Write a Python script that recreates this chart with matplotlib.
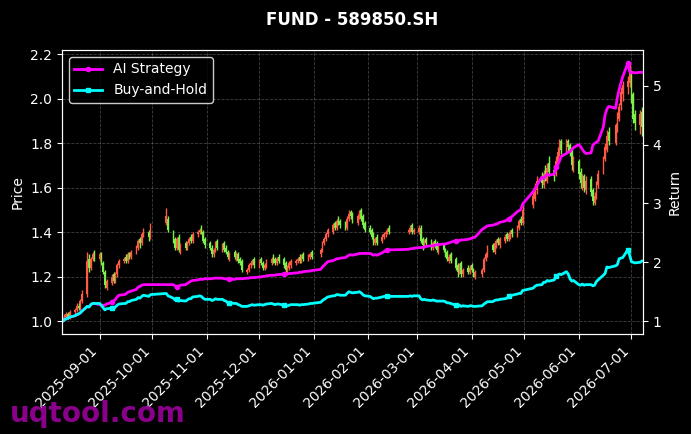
import matplotlib
matplotlib.use("Agg")
import matplotlib.pyplot as plt
import matplotlib.dates as mdates
import pandas as pd

# non-trading weekdays (CN market holidays)
holidays = ["2025-10-01", "2025-10-02", "2025-10-03", "2025-10-06", "2025-10-07", "2025-10-08",
            "2026-01-01", "2026-01-02",
            "2026-02-16", "2026-02-17", "2026-02-18", "2026-02-19", "2026-02-20", "2026-02-23",
            "2026-04-06", "2026-05-01", "2026-05-04", "2026-05-05", "2026-06-19"]

# daily OHLC, one row per week
opens = [1.00, 1.01, 1.02, 1.03, 1.02,
         1.04, 1.05, 1.07, 1.06, 1.09,
         1.12, 1.28, 1.24, 1.28, 1.31,
         1.28, 1.30, 1.26, 1.22, 1.15,
         1.17, 1.21, 1.18, 1.21, 1.25,
         1.27, 1.29, 1.27, 1.30, 1.29,
         1.31, 1.33, 1.37, 1.35, 1.39,
         1.40, 1.38,
         1.44, 1.46,
         1.40, 1.37, 1.33, 1.38, 1.32,
         1.35, 1.33, 1.35, 1.38, 1.36,
         1.39, 1.40, 1.42, 1.40, 1.37,
         1.35, 1.33, 1.30, 1.32, 1.36,
         1.32, 1.35, 1.33, 1.31, 1.28,
         1.31, 1.28, 1.30, 1.28, 1.27,
         1.22, 1.23, 1.25, 1.26, 1.28,
         1.25, 1.28, 1.26, 1.24, 1.25,
         1.26, 1.29, 1.28, 1.26, 1.29,
         1.28, 1.26, 1.22, 1.24, 1.25,
         1.26, 1.27, 1.29, 1.27, 1.30,
         1.28, 1.29, 1.31,
         1.30, 1.32, 1.35, 1.37, 1.39,
         1.40, 1.44, 1.42, 1.46, 1.45,
         1.44, 1.42, 1.46, 1.49, 1.48,
         1.44, 1.47, 1.50, 1.47, 1.44,
         1.42, 1.41, 1.39, 1.35, 1.38,
         1.36, 1.38, 1.39, 1.40, 1.42,
         1.40, 1.41, 1.43, 1.40,
         1.40, 1.42, 1.37, 1.34, 1.37,
         1.36, 1.33, 1.36, 1.35, 1.31,
         1.34, 1.32, 1.31, 1.27, 1.30,
         1.28, 1.25, 1.22, 1.26, 1.21,
         1.24, 1.22, 1.25, 1.23, 1.20,
         1.21, 1.23, 1.28, 1.30,
         1.34, 1.31, 1.34, 1.37, 1.34,
         1.36, 1.39, 1.37, 1.38, 1.41,
         1.39, 1.42, 1.46, 1.44,
         1.52, 1.55, 1.59,
         1.65, 1.61, 1.68, 1.63, 1.71,
         1.68, 1.66, 1.71, 1.76, 1.81,
         1.76, 1.81, 1.79, 1.77, 1.69,
         1.72, 1.67, 1.61, 1.65, 1.59,
         1.64, 1.59, 1.53, 1.56, 1.61,
         1.67, 1.73, 1.77, 1.85,
         1.80, 1.87, 1.91, 1.97, 2.02,
         2.05, 2.07, 2.11, 2.02, 1.93,
         1.88, 1.94]

highs = [1.02, 1.03, 1.04, 1.04, 1.05,
         1.06, 1.08, 1.08, 1.10, 1.14,
         1.31, 1.30, 1.29, 1.31, 1.32,
         1.31, 1.31, 1.27, 1.23, 1.19,
         1.21, 1.22, 1.22, 1.26, 1.28,
         1.29, 1.30, 1.31, 1.31, 1.32,
         1.34, 1.37, 1.38, 1.40, 1.42,
         1.41, 1.44,
         1.51, 1.47,
         1.41, 1.38, 1.38, 1.39, 1.35,
         1.36, 1.36, 1.38, 1.39, 1.40,
         1.41, 1.42, 1.43, 1.41, 1.38,
         1.36, 1.34, 1.33, 1.36, 1.37,
         1.35, 1.36, 1.34, 1.32, 1.31,
         1.32, 1.31, 1.31, 1.29, 1.28,
         1.24, 1.26, 1.27, 1.28, 1.29,
         1.28, 1.29, 1.27, 1.26, 1.28,
         1.29, 1.30, 1.29, 1.29, 1.30,
         1.29, 1.27, 1.25, 1.27, 1.28,
         1.28, 1.29, 1.30, 1.30, 1.31,
         1.30, 1.31, 1.32,
         1.33, 1.36, 1.38, 1.40, 1.42,
         1.44, 1.45, 1.46, 1.47, 1.46,
         1.45, 1.47, 1.50, 1.50, 1.49,
         1.48, 1.50, 1.51, 1.48, 1.45,
         1.43, 1.42, 1.40, 1.38, 1.39,
         1.39, 1.40, 1.41, 1.42, 1.43,
         1.42, 1.43, 1.44, 1.42,
         1.43, 1.43, 1.38, 1.37, 1.38,
         1.37, 1.36, 1.37, 1.36, 1.34,
         1.35, 1.33, 1.32, 1.30, 1.31,
         1.29, 1.26, 1.26, 1.27, 1.24,
         1.25, 1.25, 1.26, 1.24, 1.23,
         1.24, 1.29, 1.31, 1.34,
         1.35, 1.36, 1.37, 1.38, 1.38,
         1.39, 1.40, 1.40, 1.41, 1.42,
         1.43, 1.46, 1.47, 1.52,
         1.58, 1.62, 1.65,
         1.67, 1.68, 1.70, 1.71, 1.74,
         1.70, 1.74, 1.78, 1.82, 1.82,
         1.82, 1.82, 1.80, 1.78, 1.74,
         1.73, 1.69, 1.66, 1.66, 1.65,
         1.65, 1.60, 1.58, 1.63, 1.68,
         1.74, 1.80, 1.86, 1.87,
         1.89, 1.94, 1.98, 2.05, 2.08,
         2.10, 2.16, 2.13, 2.03, 1.95,
         1.95, 1.96]

lows = [1.00, 1.00, 1.01, 1.01, 1.01,
        1.03, 1.04, 1.05, 1.05, 1.08,
        1.11, 1.22, 1.23, 1.27, 1.27,
        1.27, 1.25, 1.21, 1.15, 1.14,
        1.16, 1.17, 1.17, 1.20, 1.24,
        1.26, 1.26, 1.26, 1.28, 1.28,
        1.30, 1.32, 1.33, 1.34, 1.38,
        1.36, 1.37,
        1.43, 1.40,
        1.35, 1.32, 1.32, 1.31, 1.30,
        1.32, 1.32, 1.34, 1.35, 1.35,
        1.38, 1.39, 1.39, 1.35, 1.33,
        1.32, 1.29, 1.29, 1.31, 1.32,
        1.31, 1.31, 1.30, 1.28, 1.27,
        1.28, 1.27, 1.26, 1.25, 1.22,
        1.21, 1.22, 1.24, 1.25, 1.24,
        1.24, 1.25, 1.23, 1.23, 1.24,
        1.25, 1.26, 1.25, 1.25, 1.26,
        1.24, 1.22, 1.21, 1.23, 1.24,
        1.25, 1.26, 1.26, 1.26, 1.27,
        1.27, 1.28, 1.28,
        1.29, 1.31, 1.34, 1.36, 1.38,
        1.39, 1.41, 1.41, 1.43, 1.42,
        1.41, 1.41, 1.45, 1.46, 1.44,
        1.43, 1.46, 1.45, 1.42, 1.40,
        1.39, 1.37, 1.34, 1.34, 1.34,
        1.35, 1.37, 1.38, 1.39, 1.39,
        1.39, 1.40, 1.39, 1.39,
        1.39, 1.35, 1.32, 1.33, 1.34,
        1.32, 1.32, 1.33, 1.31, 1.30,
        1.31, 1.29, 1.27, 1.26, 1.26,
        1.23, 1.20, 1.21, 1.20, 1.20,
        1.21, 1.21, 1.22, 1.20, 1.19,
        1.20, 1.22, 1.27, 1.29,
        1.31, 1.30, 1.33, 1.34, 1.33,
        1.35, 1.36, 1.36, 1.37, 1.38,
        1.38, 1.41, 1.43, 1.43,
        1.51, 1.54, 1.57,
        1.60, 1.60, 1.63, 1.62, 1.65,
        1.63, 1.65, 1.70, 1.74, 1.75,
        1.75, 1.76, 1.74, 1.68, 1.67,
        1.64, 1.60, 1.59, 1.58, 1.57,
        1.56, 1.52, 1.52, 1.55, 1.60,
        1.66, 1.72, 1.76, 1.79,
        1.79, 1.85, 1.90, 1.95, 1.99,
        2.02, 2.05, 1.98, 1.89, 1.86,
        1.84, 1.83]

closes = [1.01, 1.02, 1.03, 1.02, 1.04,
          1.05, 1.07, 1.06, 1.09, 1.12,
          1.27, 1.24, 1.28, 1.30, 1.29,
          1.30, 1.26, 1.22, 1.16, 1.18,
          1.20, 1.18, 1.21, 1.25, 1.27,
          1.28, 1.27, 1.30, 1.29, 1.31,
          1.33, 1.36, 1.35, 1.39, 1.41,
          1.38, 1.43,
          1.47, 1.41,
          1.36, 1.33, 1.37, 1.32, 1.34,
          1.33, 1.35, 1.37, 1.36, 1.39,
          1.40, 1.41, 1.40, 1.36, 1.34,
          1.33, 1.30, 1.32, 1.35, 1.33,
          1.34, 1.32, 1.31, 1.29, 1.30,
          1.29, 1.30, 1.27, 1.26, 1.23,
          1.23, 1.25, 1.26, 1.27, 1.25,
          1.27, 1.26, 1.24, 1.25, 1.27,
          1.28, 1.27, 1.26, 1.28, 1.27,
          1.25, 1.23, 1.24, 1.26, 1.27,
          1.27, 1.28, 1.27, 1.29, 1.28,
          1.29, 1.30, 1.29,
          1.32, 1.35, 1.37, 1.39, 1.41,
          1.43, 1.42, 1.45, 1.44, 1.43,
          1.42, 1.46, 1.48, 1.47, 1.45,
          1.47, 1.49, 1.46, 1.43, 1.41,
          1.40, 1.38, 1.36, 1.37, 1.35,
          1.38, 1.39, 1.40, 1.41, 1.40,
          1.41, 1.42, 1.40, 1.41,
          1.42, 1.36, 1.34, 1.36, 1.35,
          1.33, 1.35, 1.34, 1.32, 1.33,
          1.32, 1.30, 1.28, 1.29, 1.27,
          1.24, 1.22, 1.25, 1.21, 1.23,
          1.22, 1.24, 1.23, 1.21, 1.22,
          1.23, 1.28, 1.30, 1.33,
          1.32, 1.35, 1.36, 1.35, 1.37,
          1.38, 1.37, 1.39, 1.40, 1.39,
          1.42, 1.45, 1.44, 1.50,
          1.56, 1.60, 1.63,
          1.62, 1.66, 1.64, 1.69, 1.67,
          1.65, 1.72, 1.76, 1.79, 1.77,
          1.80, 1.78, 1.76, 1.70, 1.73,
          1.66, 1.62, 1.64, 1.60, 1.63,
          1.58, 1.54, 1.56, 1.62, 1.66,
          1.72, 1.78, 1.83, 1.81,
          1.88, 1.92, 1.96, 2.03, 2.06,
          2.08, 2.12, 2.00, 1.91, 1.89,
          1.93, 1.87]

# cumulative returns
buy_hold = [1.00, 1.02, 1.04, 1.05, 1.07,
            1.09, 1.11, 1.12, 1.14, 1.17,
            1.25, 1.24, 1.28, 1.30, 1.30,
            1.30, 1.27, 1.23, 1.19, 1.21,
            1.22, 1.21, 1.24, 1.27, 1.29,
            1.30, 1.30, 1.33, 1.33, 1.35,
            1.37, 1.40, 1.39, 1.42, 1.44,
            1.42, 1.45,
            1.47, 1.43,
            1.39, 1.36, 1.38, 1.34, 1.35,
            1.34, 1.36, 1.38, 1.38, 1.41,
            1.42, 1.43, 1.42, 1.39, 1.37,
            1.37, 1.35, 1.36, 1.38, 1.37,
            1.37, 1.35, 1.34, 1.31, 1.31,
            1.30, 1.30, 1.28, 1.27, 1.25,
            1.25, 1.26, 1.27, 1.28, 1.27,
            1.28, 1.28, 1.27, 1.28, 1.29,
            1.30, 1.29, 1.28, 1.29, 1.29,
            1.27, 1.25, 1.26, 1.27, 1.28,
            1.28, 1.28, 1.27, 1.28, 1.28,
            1.29, 1.30, 1.30,
            1.32, 1.35, 1.37, 1.39, 1.41,
            1.43, 1.43, 1.45, 1.45, 1.44,
            1.44, 1.47, 1.50, 1.49, 1.48,
            1.49, 1.50, 1.48, 1.45, 1.43,
            1.42, 1.40, 1.38, 1.39, 1.39,
            1.41, 1.42, 1.42, 1.43, 1.42,
            1.42, 1.43, 1.42, 1.43,
            1.43, 1.38, 1.36, 1.37, 1.36,
            1.35, 1.36, 1.35, 1.34, 1.34,
            1.34, 1.33, 1.31, 1.31, 1.30,
            1.27, 1.25, 1.27, 1.25, 1.26,
            1.25, 1.26, 1.26, 1.25, 1.25,
            1.26, 1.29, 1.31, 1.33,
            1.33, 1.35, 1.36, 1.36, 1.37,
            1.38, 1.39, 1.42, 1.44, 1.44,
            1.46, 1.47, 1.47, 1.52,
            1.56, 1.59, 1.61,
            1.62, 1.66, 1.66, 1.69, 1.68,
            1.70, 1.76, 1.78, 1.80, 1.79,
            1.84, 1.80, 1.72, 1.68, 1.69,
            1.62, 1.61, 1.63, 1.61, 1.62,
            1.62, 1.60, 1.61, 1.67, 1.70,
            1.78, 1.81, 1.92, 1.91,
            1.94, 1.96, 2.06, 2.07, 2.08,
            2.21, 2.12, 2.01, 2.00, 1.99,
            2.00, 2.02]

ai_strategy = [1.00, 1.02, 1.04, 1.05, 1.07,
               1.09, 1.11, 1.12, 1.14, 1.17,
               1.25, 1.24, 1.28, 1.30, 1.30,
               1.28, 1.27, 1.27, 1.27, 1.29,
               1.32, 1.34, 1.37, 1.41, 1.44,
               1.45, 1.46, 1.49, 1.50, 1.51,
               1.54, 1.58, 1.59, 1.61, 1.62,
               1.62, 1.62,
               1.62, 1.62,
               1.62, 1.60, 1.58, 1.59, 1.61,
               1.62, 1.64, 1.66, 1.68, 1.69,
               1.70, 1.71, 1.71, 1.71, 1.72,
               1.72, 1.72, 1.73, 1.73, 1.73,
               1.73, 1.72, 1.72, 1.71, 1.71,
               1.71, 1.72, 1.72, 1.72, 1.72,
               1.73, 1.73, 1.74, 1.74, 1.74,
               1.75, 1.75, 1.76, 1.76, 1.77,
               1.78, 1.78, 1.78, 1.79, 1.79,
               1.80, 1.79, 1.80, 1.81, 1.81,
               1.82, 1.82, 1.83, 1.83, 1.84,
               1.85, 1.85, 1.86,
               1.88, 1.92, 1.95, 1.98, 2.01,
               2.03, 2.04, 2.06, 2.06, 2.07,
               2.08, 2.10, 2.12, 2.13, 2.12,
               2.14, 2.15, 2.15, 2.15, 2.15,
               2.15, 2.14, 2.12, 2.13, 2.12,
               2.16, 2.18, 2.20, 2.21, 2.21,
               2.22, 2.23, 2.23, 2.24,
               2.25, 2.25, 2.25, 2.26, 2.27,
               2.28, 2.28, 2.29, 2.30, 2.30,
               2.31, 2.31, 2.32, 2.33, 2.34,
               2.37, 2.36, 2.37, 2.38, 2.38,
               2.39, 2.40, 2.41, 2.42, 2.43,
               2.56, 2.58, 2.60, 2.62,
               2.63, 2.64, 2.65, 2.66, 2.68,
               2.70, 2.72, 2.74, 2.76, 2.78,
               2.86, 2.88, 2.90, 2.99,
               3.20, 3.25, 3.30,
               3.45, 3.42, 3.46, 3.50, 3.48,
               3.50, 3.62, 3.66, 3.72, 3.80,
               3.85, 3.87, 3.88, 3.92, 3.95,
               4.00, 3.97, 3.92, 3.88, 3.85,
               3.86, 3.99, 4.02, 4.04, 4.06,
               4.30, 4.51, 4.60, 4.65,
               4.62, 4.80, 4.94, 5.05, 5.15,
               5.39, 5.24, 5.22, 5.23, 5.22,
               5.23, 5.23]

# days with a visible marker on the return lines
signal_idx = [20, 41, 63, 84, 125, 146, 167, 183, 211]

dates = pd.bdate_range("2025-08-11", "2026-07-07")
dates = dates[~dates.isin(pd.to_datetime(holidays))]
assert len(dates) == len(closes) == len(buy_hold) == len(ai_strategy)

plt.style.use("dark_background")
fig, ax = plt.subplots(figsize=(6.91, 4.34), dpi=100)
fig.subplots_adjust(left=0.0897, right=0.9305, bottom=0.2304, top=0.8848)

up_col, down_col = "#ff5a45", "#7ef04a"
colors = [up_col if c >= o else down_col for o, c in zip(opens, closes)]
ax.vlines(dates, lows, highs, colors=colors, linewidth=1.0)
ax.bar(dates, [max(abs(c - o), 0.004) for o, c in zip(opens, closes)],
       bottom=[min(o, c) for o, c in zip(opens, closes)],
       width=0.9, color=colors, linewidth=0)
ax.use_sticky_edges = False
ax.autoscale_view()

ax.set_ylabel("Price", color="white")
ax.grid(True, linestyle="--", color="gray", alpha=0.5, linewidth=0.6)
ax.xaxis.set_major_locator(mdates.MonthLocator())
ax.xaxis.set_major_formatter(mdates.DateFormatter("%Y-%m-%d"))
plt.setp(ax.get_xticklabels(), rotation=45, ha="right")
ax.set_xlim(dates[0] - pd.Timedelta(hours=10), dates[-1] + pd.Timedelta(hours=14))

ax2 = ax.twinx()
ax2.plot(dates, ai_strategy, color="#ff00ff", linewidth=2, marker="o", markersize=3,
         markevery=signal_idx, label="AI Strategy")
ax2.plot(dates, buy_hold, color="#00ffff", linewidth=2, marker="s", markersize=3,
         markevery=signal_idx, label="Buy-and-Hold")
ax2.set_ylabel("Return", color="white")
ax2.legend(loc="upper left", facecolor="black", edgecolor="white", labelcolor="white")

ax.set_title("FUND - 589850.SH", color="white", fontsize=12, fontweight="bold", pad=18)
fig.text(0.014, 0.028, "uqtool.com", color="#8b008b", fontsize=20, fontweight="bold")

plt.savefig("out.png", dpi=100)
